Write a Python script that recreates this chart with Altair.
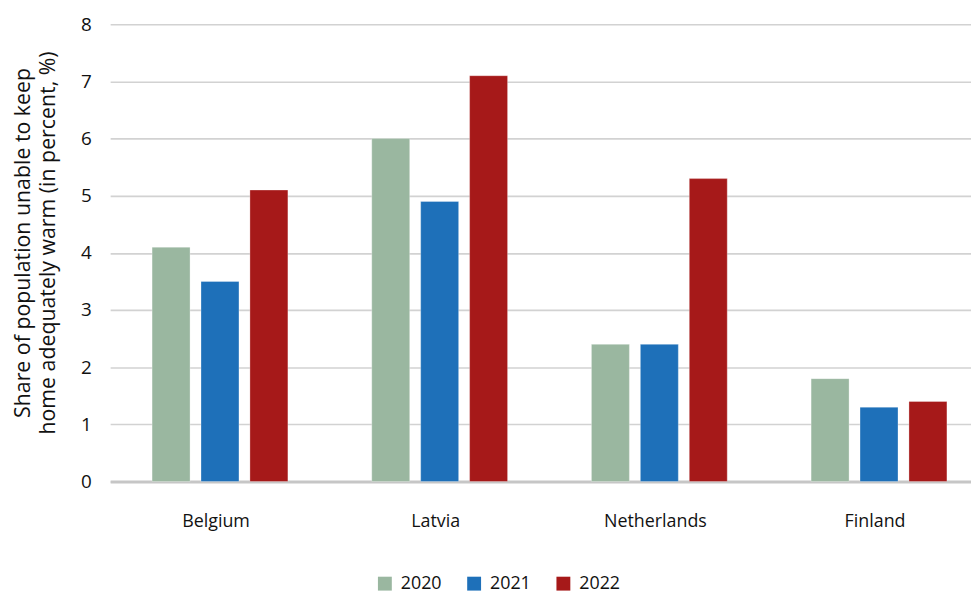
import altair as alt
import pandas as pd

countries = ["Belgium", "Latvia", "Netherlands", "Finland"]
years = ["2020", "2021", "2022"]
v2020 = [4.1, 6.0, 2.4, 1.8]
v2021 = [3.5, 4.9, 2.4, 1.3]
v2022 = [5.1, 7.1, 5.3, 1.4]
colors = ["#9ab7a0", "#1e70b9", "#a61919"]

rows = []
for i, c in enumerate(countries):
    for y, vals in zip(years, [v2020, v2021, v2022]):
        rows.append({"country": c, "year": y, "value": vals[i]})
df = pd.DataFrame(rows)

FONT = "Open Sans"

chart = alt.Chart(df).mark_bar(
    stroke="white", strokeOpacity=0.3, strokeWidth=1
).encode(
    x=alt.X("country:N", sort=countries,
            scale=alt.Scale(range=[1, 887], paddingInner=0, paddingOuter=0),
            axis=alt.Axis(title=None, labelAngle=0, ticks=False, labelPadding=31,
                          labelOffset=-4, labelFontSize=18, labelColor="#111111",
                          domainColor="#c6c6c6", domainWidth=3, grid=False)),
    xOffset=alt.XOffset("year:N", sort=years,
                        scale=alt.Scale(paddingInner=0.224, paddingOuter=0.857)),
    y=alt.Y("value:Q", scale=alt.Scale(domain=[0, 8]),
            axis=alt.Axis(values=list(range(0, 9)), ticks=False, domain=False,
                          labelPadding=18, labelFontSize=19, labelColor="#111111",
                          gridColor="#d2d2d2", gridWidth=1.6,
                          title=["Share of population unable to keep",
                                 "home adequately warm (in percent, %)"],
                          titleFontSize=21.5, titleFontWeight="normal",
                          titleColor="#111111", titleLineHeight=25,
                          titlePadding=21, titleY=220)),
    color=alt.Color("year:N", sort=years,
                    scale=alt.Scale(domain=years, range=colors),
                    legend=alt.Legend(title=None, orient="none", direction="horizontal",
                                      legendX=269, legendY=555,
                                      symbolType="square", symbolSize=196,
                                      symbolStrokeWidth=0, labelFontSize=18,
                                      labelColor="#111111", labelOffset=7,
                                      columnPadding=23)),
).properties(
    width=869, height=461,
    autosize=alt.AutoSizeParams(type="none"),
    padding={"left": 102, "top": 14, "right": 0, "bottom": 110},
).configure(
    font=FONT
).configure_view(
    stroke=None
)

chart.save("out.html", embed_options={"renderer": "svg", "actions": False})
